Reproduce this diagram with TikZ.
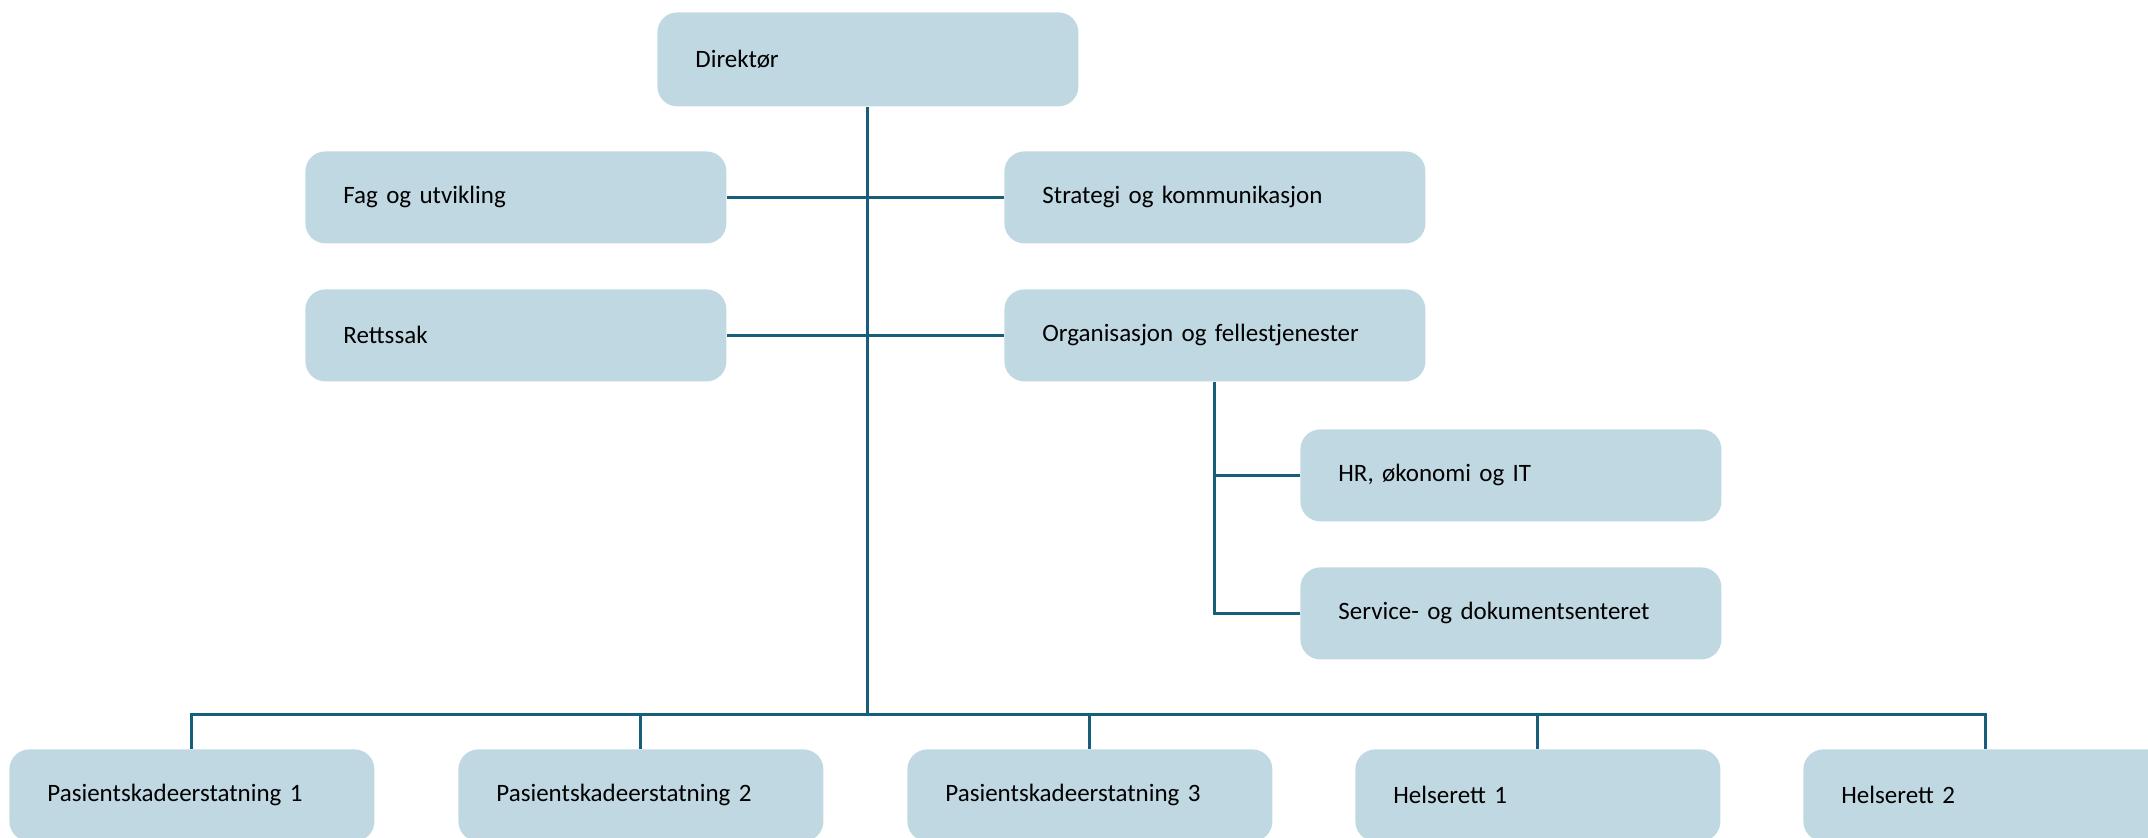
\documentclass[tikz,border=0pt]{standalone}
\usepackage{fontspec}
\setmainfont{Carlito}
\definecolor{boxblue}{HTML}{C0D8E2}
\definecolor{linkblue}{HTML}{165E79}

\begin{document}
\begin{tikzpicture}[x=0.5pt, y=-0.5pt,
    unit/.style={fill=boxblue, rounded corners=10pt, anchor=north west,
        inner xsep=19pt, align=left, minimum height=46pt,
        font=\fontsize{12.5}{15}\selectfont},
    wide/.style={unit, text width=172.5pt},
    low/.style={unit, text width=144.5pt},
    link/.style={draw=linkblue, line width=1.5pt}]
        \clip (0,0) rectangle (2148,838);

        % top
        \node[wide, minimum height=47pt] (dir) at (657,12) {Direktør};

        % staff units
        \node[wide] (fag) at (305,151) {Fag og utvikling};
        \node[wide] (strat) at (1004,151) {Strategi og kommunikasjon};
        \node[wide] (rett) at (305,289) {Rettssak};
        \node[wide] (org) at (1004,289) {Organisasjon og fellestjenester};

        % under organisasjon
        \node[wide] (hr) at (1300,429) {HR, økonomi og IT};
        \node[wide] (serv) at (1300,567) {Service- og dokumentsenteret};

        % line units
        \node[low] (pas1) at (9,749) {Pasientskadeerstatning 1};
        \node[low] (pas2) at (458,749) {Pasientskadeerstatning 2};
        \node[low] (pas3) at (907,749) {Pasientskadeerstatning 3};
        \node[low] (hel1) at (1355,749) {Helserett 1};
        \node[low] (hel2) at (1803,749) {Helserett 2};

        % connectors
        \coordinate (bus) at (dir.south |- 0,715);
        \draw[link] (dir.south) -- (bus);
        \draw[link] (fag.east) -- (strat.west);
        \draw[link] (rett.east) -- (org.west);
        \draw[link] (org.south) |- (hr.west);
        \draw[link] (org.south) |- (serv.west);
        \draw[link] (pas1.north) |- (bus) -| (hel2.north);
        \foreach \n in {pas2,pas3,hel1}
            \draw[link] (\n.north) -- (\n.north |- bus);
    \end{tikzpicture}
\end{document}
